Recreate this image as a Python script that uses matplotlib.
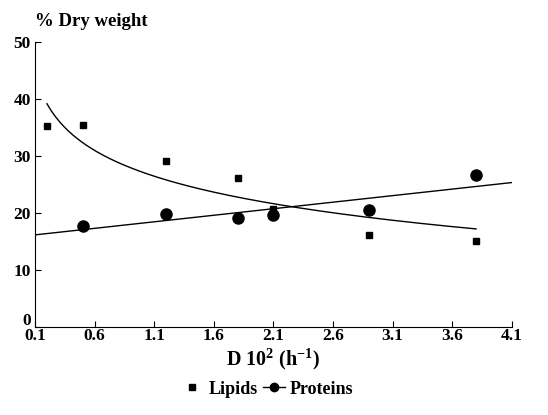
import numpy as np
import matplotlib
matplotlib.use("Agg")
import matplotlib.pyplot as plt
from matplotlib.lines import Line2D
import matplotlib.transforms as mtransforms

plt.rcParams['font.family'] = ['Liberation Serif', 'DejaVu Serif']
plt.rcParams['font.weight'] = 'bold'
plt.rcParams['mathtext.fontset'] = 'custom'
plt.rcParams['mathtext.rm'] = 'Liberation Serif:bold'

# Data
lipid_x = [0.2, 0.5, 1.2, 1.8, 2.1, 2.9, 3.8]
lipid_y = [35.3, 35.4, 29.2, 26.2, 20.7, 16.2, 15.1]
protein_x = [0.5, 1.2, 1.8, 2.1, 2.9, 3.8]
protein_y = [17.8, 19.8, 19.2, 19.7, 20.6, 26.7]
x_ticks = [0.1, 0.6, 1.1, 1.6, 2.1, 2.6, 3.1, 3.6, 4.1]
y_ticks = [0, 10, 20, 30, 40, 50]

fig = plt.figure(figsize=(5.48, 4.15), dpi=100)
ax = fig.add_axes([0.064, 0.212, 0.870, 0.687])

# Trend lines fitted to the data
b, a = np.polyfit(np.log(lipid_x), lipid_y, 1)
lx = np.linspace(min(lipid_x), max(lipid_x), 200)
ax.plot(lx, a + b * np.log(lx), color='black', lw=1.0)
m, c = np.polyfit(protein_x, protein_y, 1)
px = np.array([x_ticks[0], x_ticks[-1]])
ax.plot(px, m * px + c, color='black', lw=1.0)

ax.plot(lipid_x, lipid_y, 's', color='black', ms=5, ls='none')
ax.plot(protein_x, protein_y, 'o', color='black', ms=8, ls='none')

ax.set_xlim(0.1, 4.1)
ax.set_ylim(0, 50)
ax.set_xticks(x_ticks)
ax.set_xticklabels([f"{v:.1f}" for v in x_ticks])
ax.set_yticks(y_ticks)
ax.spines['top'].set_visible(False)
ax.spines['right'].set_visible(False)
ax.tick_params(axis='both', direction='in', length=4, labelsize=12.5, pad=1)
ax.tick_params(axis='y', pad=3)

# nudge the "0" y label up so it sits above "0.1"
ylabels = ax.get_yticklabels()
offset = mtransforms.ScaledTranslation(0, 8 / 100, fig.dpi_scale_trans)
ylabels[0].set_transform(ylabels[0].get_transform() + offset)

fig.text(0.064, 0.937, '% Dry weight', fontsize=13.5, fontweight='bold', ha='left', va='baseline')
ax.set_xlabel(r'D 10$^{2}$ (h$^{-1}$)', fontsize=14.5, fontweight='bold', labelpad=1)

handles = [Line2D([], [], marker='s', color='black', ls='none', ms=4),
           Line2D([], [], marker='o', color='black', ls='-', lw=1, ms=6)]
fig.legend(handles, ['Lipids', 'Proteins'], loc='center', bbox_to_anchor=(0.488, 0.062),
           ncol=2, frameon=False, fontsize=13, handlelength=1.2, handletextpad=0.3,
           columnspacing=0.3)

fig.savefig('out.png', dpi=100)
